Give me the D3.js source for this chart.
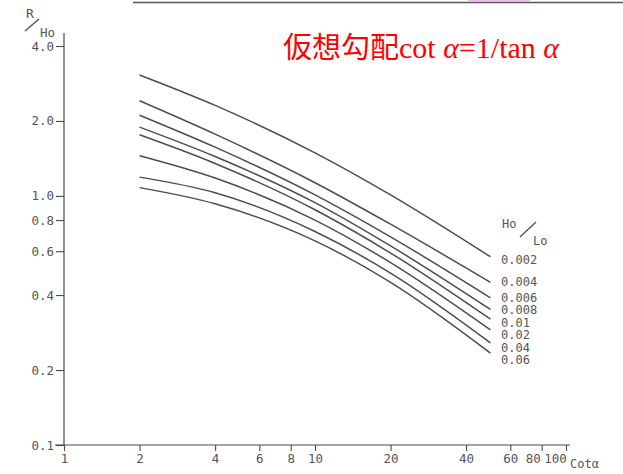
<!DOCTYPE html>
<html>
<head>
<meta charset="utf-8">
<script src="https://cdn.jsdelivr.net/npm/d3@7"></script>
<style>
    body { margin: 0; background: #fff; }
    svg { display: block; }
</style>
</head>
<body>
<div id="chart"></div>
<script>
var cotValues = [2, 4, 10, 20, 50];
// wave steepness Ho/Lo for each curve
var steepness = ['0.002', '0.004', '0.006', '0.008', '0.01', '0.02', '0.04', '0.06'];
// R/Ho values, one row per steepness
var r002 = [3.06, 2.31, 1.49, 1.01, 0.57];
var r004 = [2.41, 1.77, 1.13, 0.77, 0.45];
var r006 = [2.11, 1.57, 1.01, 0.685, 0.39];
var r008 = [1.89, 1.44, 0.94, 0.63, 0.35];
var r01 = [1.76, 1.35, 0.88, 0.59, 0.32];
var r02 = [1.45, 1.18, 0.80, 0.54, 0.29];
var r04 = [1.19, 1.03, 0.72, 0.49, 0.257];
var r06 = [1.08, 0.93, 0.66, 0.45, 0.234];
var seriesValues = [r002, r004, r006, r008, r01, r02, r04, r06];
var xTicks = [1, 2, 4, 6, 8, 10, 20, 40, 60, 80, 100];
var yTicks = [0.1, 0.2, 0.4, 0.6, 0.8, 1.0, 2.0, 4.0];

var width = 623, height = 474;
var ink = '#4a4a4a';
var mono = '"DejaVu Sans Mono", monospace';

var svg = d3.select('#chart').append('svg')
    .attr('width', width)
    .attr('height', height);

var x = d3.scaleLog().domain([1, 100]).range([64, 566]);
var y = d3.scaleLog().domain([0.1, 4]).range([445, 46]);

//scan edge at the top
svg.append('line')
    .attr('x1', 133).attr('y1', 2.5).attr('x2', width).attr('y2', 2.5)
    .attr('stroke', '#555').attr('stroke-width', 1.5);
svg.append('rect')
    .attr('x', 468).attr('y', 0).attr('width', 62).attr('height', 2)
    .attr('fill', '#e8b8e8');

//axis lines
svg.append('line')
    .attr('x1', x(1)).attr('y1', 33).attr('x2', x(1)).attr('y2', y(0.1))
    .attr('stroke', ink).attr('stroke-width', 1.2);
svg.append('line')
    .attr('x1', 55).attr('y1', y(0.1)).attr('x2', 570).attr('y2', y(0.1))
    .attr('stroke', ink).attr('stroke-width', 1.2);

//y ticks
var yAxis = svg.append('g')
    .attr('transform', 'translate(' + x(1) + ',0)')
    .call(d3.axisLeft(y).tickValues(yTicks).tickFormat(d3.format('.1f')).tickSize(8).tickPadding(2));
yAxis.select('.domain').remove();
yAxis.selectAll('line').attr('stroke', ink).attr('stroke-width', 1.1);
yAxis.selectAll('text')
    .attr('fill', '#555').style('font-family', mono).style('font-size', '12.5px');

//x ticks
var xAxis = svg.append('g')
    .attr('transform', 'translate(0,' + y(0.1) + ')')
    .call(d3.axisBottom(x).tickValues(xTicks).tickFormat(d3.format('d')).tickSize(6).tickPadding(3));
xAxis.select('.domain').remove();
xAxis.selectAll('line').attr('stroke', ink).attr('stroke-width', 1.1);
xAxis.selectAll('text')
    .attr('fill', '#555').style('font-family', mono).style('font-size', '12.5px')
    .attr('dx', function (d) { return d === 80 ? -9 : (d === 100 ? -11 : 0); });

//axis titles
svg.append('text').text('Cotα')
    .attr('x', 570).attr('y', 468)
    .attr('fill', '#555').style('font-family', mono).style('font-size', '12px');

svg.append('text').text('R')
    .attr('x', 26).attr('y', 18)
    .attr('fill', '#555').style('font-family', mono).style('font-size', '13px');
svg.append('line')
    .attr('x1', 25).attr('y1', 31).attr('x2', 39).attr('y2', 19)
    .attr('stroke', '#555').attr('stroke-width', 1.6);
svg.append('text').text('Ho')
    .attr('x', 40).attr('y', 37)
    .attr('fill', '#555').style('font-family', mono).style('font-size', '12.5px');

//curves
var line = d3.line()
    .x(function (d) { return x(d[0]); })
    .y(function (d) { return y(d[1]); })
    .curve(d3.curveMonotoneX);

var prevY = 0;
seriesValues.forEach(function (vals, i) {
    var pts = cotValues.map(function (c, j) { return [c, vals[j]]; });
    svg.append('path')
        .attr('d', line(pts))
        .attr('fill', 'none')
        .attr('stroke', '#4d4d4d')
        .attr('stroke-width', 1.5);
    //label next to the end of the curve
    var endY = y(vals[vals.length - 1]);
    var ly = i === 0 ? endY + 3 : Math.max(endY, prevY + 12.5);
    prevY = ly;
    svg.append('text').text(steepness[i])
        .attr('x', 501).attr('y', ly + 4)
        .attr('fill', '#555').style('font-family', mono).style('font-size', '12px');
});

//Ho/Lo legend title
svg.append('text').text('Ho')
    .attr('x', 502).attr('y', 228)
    .attr('fill', '#555').style('font-family', mono).style('font-size', '12px');
svg.append('line')
    .attr('x1', 520).attr('y1', 237).attr('x2', 536).attr('y2', 222)
    .attr('stroke', '#555').attr('stroke-width', 1.4);
svg.append('text').text('Lo')
    .attr('x', 533).attr('y', 245)
    .attr('fill', '#555').style('font-family', mono).style('font-size', '12px');

//red note
var note = svg.append('text')
    .attr('x', 283).attr('y', 58)
    .attr('fill', '#ff0000');
note.append('tspan').text('仮想勾配')
    .style('font-family', '"Noto Sans CJK JP", sans-serif')
    .style('font-size', '29px');
note.append('tspan').text('cot ')
    .style('font-family', '"Liberation Serif", serif')
    .style('font-size', '30px');
note.append('tspan').text('α')
    .style('font-family', '"Liberation Serif", serif')
    .style('font-style', 'italic')
    .style('font-size', '30px');
note.append('tspan').text('=1/tan ')
    .style('font-family', '"Liberation Serif", serif')
    .style('font-size', '30px');
note.append('tspan').text('α')
    .style('font-family', '"Liberation Serif", serif')
    .style('font-style', 'italic')
    .style('font-size', '30px');
</script>
</body>
</html>
